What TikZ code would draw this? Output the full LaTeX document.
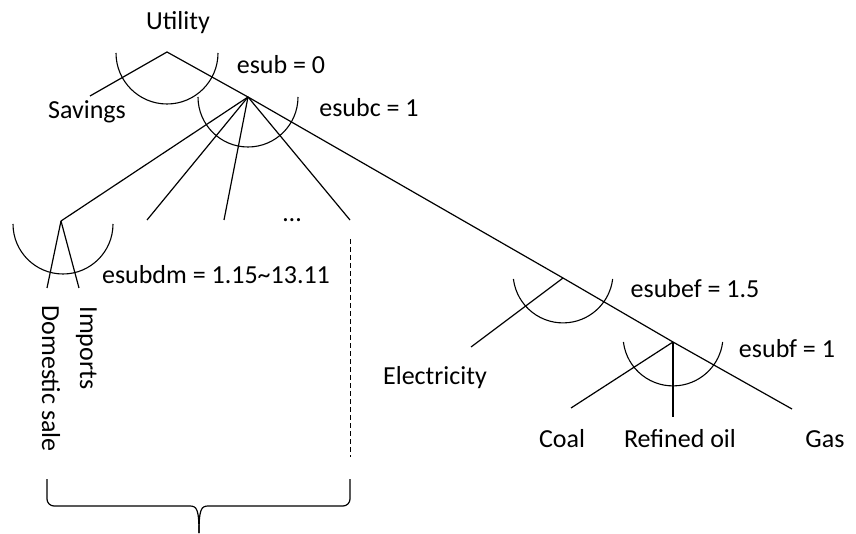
\documentclass[tikz,border=0pt]{standalone}
\usepackage{fontspec}
\setmainfont{Carlito}
\begin{document}
\begin{tikzpicture}[x=1pt,y=-1pt,line width=1.2pt,
  lbl/.style={font=\fontsize{26}{30}\selectfont,inner sep=0pt,anchor=base},
  vlbl/.style={lbl,rotate=-90,anchor=base west},
  nestarc/.style={line width=1.1pt},
  gap/.style={line width=1pt,dash pattern=on 5pt off 3pt}]
\useasboundingbox (0,0) rectangle (856,534);

% nest points of the CES tree
\coordinate (top) at (167,52);
\coordinate (c)   at (248,97);
\coordinate (dm)  at (61,221);
\coordinate (s2)  at (147,220);
\coordinate (s3)  at (224,220);
\coordinate (s4)  at (350,220);
\coordinate (ef)  at (563,278);
\coordinate (f)   at (673,342);

% free ends of the branches
\coordinate (savE)  at (90,96);
\coordinate (domE)  at (47,288);
\coordinate (impE)  at (79,288);
\coordinate (eleE)  at (471,347);
\coordinate (coalE) at (571,408);
\coordinate (oilE)  at (673,417);
\coordinate (gasE)  at (792,409);
\coordinate (gapT)  at (350,239);
\coordinate (gapB)  at (350,457);

% branches
\draw (savE) -- (top) -- (c);
\draw (c) -- (dm);
\draw (c) -- (s2);
\draw (c) -- (s3);
\draw (c) -- (s4);
\draw (c) -- (ef) -- (f) -- (gasE);
\draw (dm) -- (domE);
\draw (dm) -- (impE);
\draw (ef) -- (eleE);
\draw (f) -- (coalE);
\draw (f) -- (oilE);
\draw[gap] (gapT) -- (gapB);

% substitution arcs
\draw[nestarc] ([shift={(-51pt,-1pt)}]top) arc[start angle=180,end angle=360,radius=51pt];
\draw[nestarc] ([xshift=-50pt]c) arc[start angle=180,end angle=360,radius=50pt];
\draw[nestarc] ([shift={(-48pt,-3pt)}]dm) arc[start angle=180,end angle=360,radius=50pt];
\draw[nestarc] ([shift={(-49.6pt,-1pt)}]ef) arc[start angle=187,end angle=353,radius=50pt];
\draw[nestarc] ([xshift=-49.6pt]f) arc[start angle=187,end angle=353,radius=50pt];

% labels
\node[lbl] (util) at (178,30) {Utility};
\node[lbl] (sav)  at (87,119) {Savings};
\node[lbl] (e0)   at (281,74) {esub = 0};
\node[lbl] (e1)   at (369,117) {esubc = 1};
\node[lbl] (dots) at (292,222) {…};
\node[lbl] (edm)  at (216,284) {esubdm = 1.15\textasciitilde13.11};
\node[vlbl] (dom) at (42,305) {Domestic sale};
\node[vlbl] (imp) at (80,306) {Imports};
\node[lbl] (ele)  at (435,384) {Electricity};
\node[lbl] (eef)  at (695,298) {esubef = 1.5};
\node[lbl] (ef1)  at (787,357) {esubf = 1};
\node[lbl] (coal) at (562,447) {Coal};
\node[lbl] (oil)  at (680,447) {Refined oil};
\node[lbl] (gas)  at (825,447) {Gas};

% brace grouping the commodity nests
\coordinate (bL) at (47,479);
\coordinate (bR) at (350,479);
\coordinate (bTip) at (199,533);
\draw (bL) -- (47,499) to[out=-90,in=180] (54,506) -- (190,506)
  .. controls (197,506) and (199,510) .. (bTip);
\draw (bR) -- (350,499) to[out=-90,in=0] (343,506) -- (208,506)
  .. controls (201,506) and (199,510) .. (bTip);
\end{tikzpicture}
\end{document}
